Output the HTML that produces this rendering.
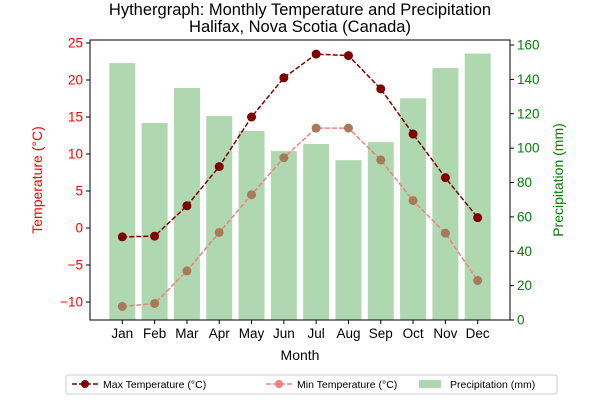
<!DOCTYPE html>
<html><head><meta charset="utf-8"><style>
body{margin:0;background:#fff;}
svg text{font-family:"Liberation Sans",sans-serif;}
</style></head><body>
<svg id="c" width="600" height="400" xmlns="http://www.w3.org/2000/svg"></svg>
<script>
const months=["Jan","Feb","Mar","Apr","May","Jun","Jul","Aug","Sep","Oct","Nov","Dec"];
const maxTemp=[-1.2,-1.1,3.0,8.3,15.0,20.3,23.5,23.3,18.8,12.7,6.8,1.4];
const minTemp=[-10.6,-10.2,-5.8,-0.6,4.5,9.5,13.5,13.5,9.2,3.7,-0.7,-7.1];
const precip=[149.5,114.6,135,118.7,110,98.3,102.4,93,103.5,129,146.6,155];
const tempTicks=[-10,-5,0,5,10,15,20,25];
const precipTicks=[0,20,40,60,80,100,120,140,160];
const L=90,R=510,T=40,B=320;
const x=i=>L+(i+1)*(R-L)/13;
const yT=v=>302-(v+10)*7.4;
const yP=v=>B-v*(B-45)/160;
const svg=document.getElementById('c');
const NS="http://www.w3.org/2000/svg";
function mk(tag,attrs,name,txt){const e=document.createElementNS(NS,tag);for(const k in attrs)e.setAttribute(k,attrs[k]);


if(txt!==undefined)e.textContent=txt;svg.appendChild(e);return e;}
mk('text',{x:300,y:15,'text-anchor':'middle','font-size':16.5},'chart-title','Hythergraph: Monthly Temperature and Precipitation');
mk('text',{x:300,y:32,'text-anchor':'middle','font-size':16.5},'chart-subtitle','Halifax, Nova Scotia (Canada)');
precip.forEach((v,i)=>{mk('rect',{x:x(i)-13,y:yP(v),width:26,height:B-yP(v),fill:'#b0d8b0'},'precip-bar-'+months[i].toLowerCase());});
function line(d,col,mcol,name){
 mk('polyline',{points:d.map((v,i)=>x(i)+','+yT(v)).join(' '),fill:'none',stroke:col,'stroke-width':1.5,'stroke-dasharray':'5,2'},name+'-line');
 d.forEach((v,i)=>mk('circle',{cx:x(i),cy:yT(v),r:4.5,fill:mcol},name+'-point-'+months[i].toLowerCase()));
}
line(maxTemp,'#800000','#800000','max-temp');
line(minTemp,'#f08080','#a87a58','min-temp');
mk('rect',{x:L,y:T,width:R-L,height:B-T,fill:'none',stroke:'#000','stroke-width':1},'plot-frame');
tempTicks.forEach(t=>{const y=yT(t);mk('line',{x1:L-4,x2:L,y1:y,y2:y,stroke:'#000'},'temp-tick');
 mk('text',{x:L-7,y:y+4.5,'text-anchor':'end','font-size':13.5,fill:'red'},'temp-tick-label',t<0?'\u2212'+(-t):t);});
precipTicks.forEach(t=>{const y=yP(t);mk('line',{x1:R,x2:R+4,y1:y,y2:y,stroke:'#000'},'precip-tick');
 mk('text',{x:R+7,y:y+4.5,'font-size':13.5,fill:'green'},'precip-tick-label',t);});
months.forEach((m,i)=>{mk('line',{x1:x(i),x2:x(i),y1:B,y2:B+4,stroke:'#000'},'month-tick');
 mk('text',{x:x(i),y:B+18,'text-anchor':'middle','font-size':13.5},'month-label',m);});
mk('text',{x:300,y:360,'text-anchor':'middle','font-size':14},'x-axis-title','Month');
mk('text',{x:0,y:0,'text-anchor':'middle','font-size':14,fill:'red',transform:'translate(42,180) rotate(-90)'},'y-axis-title-left','Temperature (°C)');
mk('text',{x:0,y:0,'text-anchor':'middle','font-size':14,fill:'green',transform:'translate(563,180) rotate(-90)'},'y-axis-title-right','Precipitation (mm)');
mk('rect',{x:66,y:375,width:491,height:19,fill:'#fff',stroke:'#ccc',rx:2},'legend-box');
mk('line',{x1:72,x2:98,y1:384,y2:384,stroke:'#800000','stroke-width':1.5,'stroke-dasharray':'5,2'},'legend-max-line');
mk('circle',{cx:85,cy:384,r:4,fill:'#800000'},'legend-max-marker');
mk('text',{x:103,y:388,'font-size':10.5},'legend-max-label','Max Temperature (°C)');
mk('line',{x1:266,x2:292,y1:384,y2:384,stroke:'#f08080','stroke-width':1.5,'stroke-dasharray':'5,2'},'legend-min-line');
mk('circle',{cx:279,cy:384,r:4,fill:'#f08080'},'legend-min-marker');
mk('text',{x:297,y:388,'font-size':10.5},'legend-min-label','Min Temperature (°C)');
mk('rect',{x:419,y:380,width:22,height:8,fill:'#b0d8b0'},'legend-precip-swatch');
mk('text',{x:450,y:388,'font-size':10.5},'legend-precip-label','Precipitation (mm)');
</script>
</body></html>
